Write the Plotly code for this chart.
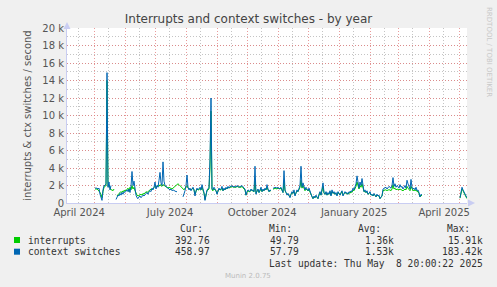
import plotly.graph_objects as go
import pandas as pd

# ---------------- data (daily averages, in thousands/sec) ----------------
main_start = "2024-05-01 20:00"
tail_start = "2025-05-01 20:00"

ctx_main_k = [
    1.7, 1.7, 1.7, 1.6, 1.7, 1.0, 0.5, 0.3, 1.5, 2.0,
    2.0, 2.2, 14.9, 1.8, 2.4, 1.5, 2.0, None, None, None,
    None, 0.4, 0.7, 0.9, 0.8, 1.1, 0.9, 1.2, 1.0, 1.3,
    1.2, 1.4, 1.5, 1.3, 1.6, 1.2, 1.9, 3.6, 2.0, 2.5,
    1.3, 0.9, 0.6, 0.5, 0.7, 0.8, 0.6, 0.7, 0.9, 0.8,
    1.0, 1.1, 1.2, 1.0, 1.3, 1.4, 1.3, 1.7, 1.5, 1.8,
    2.4, 1.6, 2.0, 1.8, 2.6, 3.5, 2.3, 2.0, 4.7, 2.5,
    2.0, 1.9, 1.8, 1.7, 1.6, 1.5, 1.6, 1.4, 1.5, 1.4,
    1.4, 1.3, 1.3, None, None, None, None, None, 0.7, 1.0,
    1.4, 2.0, 3.2, 1.8, 1.5, 1.7, 1.4, 1.6, 1.8, 1.5,
    0.8, 1.4, 1.7, 1.5, 1.6, 1.8, 1.5, 2.1, 1.6, 1.2,
    0.3, 1.0, 1.5, 1.6, 1.8, 5.0, 12.0, 1.6, 1.5, 1.8,
    1.6, 1.4, 1.0, 1.5, 1.7, 1.5, 1.6, 1.9, 1.4, 1.7,
    1.5, 1.8, 1.6, 1.9, 1.7, 1.9, 1.9, 2.0, 1.8, 1.9,
    1.9, 1.8, 2.0, 1.9, 1.8, 1.9, 1.9, 2.0, 1.8, 1.7,
    1.6, 0.9, 1.3, 1.5, 1.4, 1.3, 1.6, 1.4, 1.5, 1.3,
    4.2, 1.0, 1.4, 1.6, 1.2, 1.5, 1.8, 1.3, 1.6, 1.4,
    1.7, 1.5, 2.1, 1.6, 1.3, 1.5, 1.4, None, 1.7, 1.7,
    1.8, 1.7, 1.7, 1.8, 1.6, 1.7, 1.8, 1.5, 1.2, 3.7,
    1.5, 1.2, 0.9, 1.1, 0.8, 0.6, 1.0, 1.3, 1.1, 1.5,
    0.8, 1.2, 1.5, 1.3, 1.8, 2.0, 4.2, 1.8, 2.3, 1.7,
    1.5, 1.8, 1.6, 1.4, 1.7, 1.3, 1.0, 0.7, 0.5, 0.8,
    0.6, 0.9, 0.7, 0.5, 1.0, 1.3, 0.9, 1.6, 2.3, 1.2,
    1.0, 1.3, 0.9, 1.2, 1.0, 1.4, 0.8, 1.5, 1.1, 1.3,
    1.0, 1.2, 0.8, 1.3, 1.1, 0.9, 1.2, 1.4, 0.8, 1.0,
    1.3, 1.1, 1.2, 1.0, 1.3, 1.2, 1.4, 1.3, 1.7, 1.5,
    1.8, 2.2, 3.1, 2.0, 1.7, 2.4, 2.0, 2.8, 1.6, 1.3,
    1.5, 1.2, 1.4, 1.0, 1.1, 1.3, 0.9, 1.0, 0.8, 1.1,
    0.9, 0.7, 1.0, 0.8, 0.9, 0.5, 0.7, 0.8, 1.6, 1.7,
    1.7, 1.8, 1.6, 1.7, 1.9, 1.8, 1.7, 2.0, 2.9, 1.9,
    2.2, 1.8, 2.0, 1.9, 1.7, 2.1, 1.8, 1.9, 1.6, 1.8,
    2.0, 1.7, 2.6, 2.2, 1.9, 1.6, 2.7, 1.8, 1.6, 1.7,
    1.5, 1.8, 1.4, 1.5, 1.2, 0.7, 1.0, 0.9,
]
int_main_k = [
    1.6, 1.6, 1.6, 1.5, 1.4, 1.2, 1.0, 0.6, 1.3, 1.8,
    1.9, 2.0, 14.0, 1.9, 2.0, 1.6, 1.5, 1.5, 1.4, 1.6,
    None, None, 0.8, 1.0, 1.1, 1.2, 1.3, 1.2, 1.4, 1.3,
    1.5, 1.4, 1.6, 1.7, 1.3, 1.8, 1.5, 2.0, 1.6, 1.8,
    1.4, 1.1, 0.9, 0.8, 0.9, 1.0, 1.0, 0.9, 1.1, 1.0,
    1.2, 1.3, 1.2, 1.3, 1.4, 1.5, 1.6, 1.5, 1.7, 1.8,
    1.9, 1.8, 1.9, 2.0, 1.9, 2.1, 2.0, 1.9, 2.1, 2.0,
    1.9, 1.8, 1.8, 1.7, 1.8, 1.7, 1.7, 1.6, 1.7, 1.8,
    1.9, 2.0, 2.1, 2.2, 2.1, 2.0, 1.8, 1.7, 1.6, 1.5,
    1.7, 1.8, 2.0, 1.7, 1.6, 1.6, 1.5, 1.6, 1.7, 1.5,
    1.0, 1.3, 1.6, 1.5, 1.5, 1.7, 1.5, 1.8, 1.5, 1.1,
    0.4, 1.0, 1.4, 1.5, 1.6, 4.0, 10.5, 1.5, 1.4, 1.6,
    1.5, 1.4, 1.1, 1.4, 1.6, 1.5, 1.5, 1.7, 1.4, 1.6,
    1.5, 1.7, 1.6, 1.8, 1.7, 1.8, 1.8, 1.9, 1.8, 1.8,
    1.8, 1.8, 1.9, 1.8, 1.8, 1.8, 1.8, 1.9, 1.7, 1.6,
    1.5, 0.9, 1.2, 1.4, 1.3, 1.3, 1.5, 1.4, 1.4, 1.3,
    2.5, 1.1, 1.3, 1.5, 1.2, 1.4, 1.6, 1.3, 1.5, 1.4,
    1.6, 1.5, 1.8, 1.5, 1.3, 1.4, 1.4, None, 1.6, 1.6,
    1.7, 1.6, 1.6, 1.7, 1.6, 1.6, 1.7, 1.4, 1.2, 2.5,
    1.4, 1.2, 1.0, 1.0, 0.8, 0.7, 1.0, 1.2, 1.1, 1.3,
    0.9, 1.1, 1.4, 1.3, 1.6, 1.8, 2.6, 1.7, 2.0, 1.6,
    1.4, 1.6, 1.5, 1.4, 1.5, 1.2, 1.0, 0.7, 0.5, 0.7,
    0.6, 0.8, 0.7, 0.5, 0.9, 1.2, 0.9, 1.4, 1.9, 1.1,
    1.0, 1.2, 0.9, 1.1, 1.0, 1.3, 0.9, 1.3, 1.1, 1.2,
    1.0, 1.1, 0.9, 1.2, 1.0, 0.9, 1.1, 1.3, 0.9, 1.0,
    1.2, 1.1, 1.1, 1.0, 1.2, 1.1, 1.3, 1.2, 1.5, 1.4,
    1.6, 1.9, 2.4, 1.8, 1.6, 2.0, 1.8, 2.2, 1.5, 1.3,
    1.3, 1.2, 1.3, 1.0, 1.1, 1.2, 0.9, 1.0, 0.8, 1.0,
    0.9, 0.7, 0.9, 0.8, 0.8, 0.5, 0.7, 0.8, 1.4, 1.5,
    1.5, 1.5, 1.4, 1.5, 1.5, 1.5, 1.4, 1.6, 2.1, 1.6,
    1.7, 1.5, 1.6, 1.5, 1.5, 1.6, 1.5, 1.5, 1.4, 1.5,
    1.6, 1.5, 1.9, 1.7, 1.5, 1.4, 1.9, 1.5, 1.4, 1.5,
    1.4, 1.5, 1.3, 1.3, 1.1, 0.7, 0.9, 0.8,
]
ctx_tail_k = [0.6, 1.2, 1.8, 1.5, 1.2, 0.9, 0.8, 0.6, 0.459]
int_tail_k = [0.55, 1.0, 1.6, 1.4, 1.1, 0.8, 0.7, 0.5, 0.393]

range_start = "2024-04-03 20:00"
range_end = "2025-05-08 20:00"
label_dates = ["2024-04-16", "2024-07-16", "2024-10-16", "2025-01-16", "2025-04-16"]
label_text = ["April 2024", "July 2024", "October 2024", "January 2025", "April 2025"]
y_ticks = [0, 2000, 4000, 6000, 8000, 10000, 12000, 14000, 16000, 18000, 20000]
y_labels = ["0", "2 k", "4 k", "6 k", "8 k", "10 k", "12 k", "14 k", "16 k", "18 k", "20 k"]

legend_names = ["interrupts", "context switches"]
legend_colors = ["#00CC00", "#0066B3"]
cur_vals = ["392.76", "458.97"]
min_vals = ["49.79", "57.79"]
avg_vals = ["1.36k", "1.53k"]
max_vals = ["15.91k", "183.42k"]

# ---------------- build ----------------
def scale(lst):
    return [None if v is None else v * 1000 for v in lst]

def concat_with_gap(main, tail):
    dm = pd.date_range(main_start, periods=len(main), freq="D")
    dt = pd.date_range(tail_start, periods=len(tail), freq="D")
    gap_date = dm[-1] + pd.Timedelta(days=1)
    x = list(dm) + [gap_date] + list(dt)
    y = scale(main) + [None] + scale(tail)
    return x, y

W, H = 497, 287
L, R, T, B = 67, 30, 28, 84
PW, PH = W - L - R, H - T - B

def px(x):
    return (x - L) / PW

def py(y):
    return (T + PH - y) / PH

fig = go.Figure()
xi, yi = concat_with_gap(int_main_k, int_tail_k)
xc, yc = concat_with_gap(ctx_main_k, ctx_tail_k)
fig.add_trace(go.Scatter(x=xi, y=yi, mode="lines", line=dict(color=legend_colors[0], width=1),
                         connectgaps=False, showlegend=False, hoverinfo="skip"))
fig.add_trace(go.Scatter(x=xc, y=yc, mode="lines", line=dict(color=legend_colors[1], width=1),
                         connectgaps=False, showlegend=False, hoverinfo="skip"))
# invisible trace for label axis
fig.add_trace(go.Scatter(x=[range_start, range_end], y=[None, None], xaxis="x2",
                         showlegend=False, hoverinfo="skip"))

red_grid = "rgba(225,120,120,0.75)"
gray_grid = "rgba(190,190,190,0.9)"
axis_col = "#C9CDF2"
txt = "#555555"

fig.update_layout(
    width=W, height=H,
    margin=dict(l=L, r=R, t=T, b=B),
    paper_bgcolor="#F0F0F0",
    plot_bgcolor="#FFFFFF",
    font=dict(family="DejaVu Sans", size=10, color=txt),
    xaxis=dict(
        type="date", range=[range_start, range_end],
        tick0="2024-05-01", dtick="M1", showticklabels=False, ticks="",
        showgrid=True, gridcolor=red_grid, griddash="1px,2px", gridwidth=1,
        minor=dict(tick0="2024-04-15", dtick="M1", showgrid=True,
                   gridcolor=gray_grid, griddash="1px,2px", gridwidth=1),
        showline=True, linecolor=axis_col, linewidth=1, zeroline=False,
    ),
    xaxis2=dict(
        type="date", range=[range_start, range_end], overlaying="x", side="bottom",
        tickvals=label_dates, ticktext=label_text, ticks="", showgrid=False,
        showline=False, zeroline=False, tickfont=dict(size=10, color=txt),
        ticklabelstandoff=2,
    ),
    yaxis=dict(
        range=[0, 20000], tickvals=y_ticks, ticktext=y_labels, ticks="",
        showgrid=True, gridcolor=red_grid, griddash="1px,2px", gridwidth=1,
        minor=dict(dtick=1000, showgrid=True, gridcolor=gray_grid, griddash="1px,2px"),
        showline=True, linecolor=axis_col, linewidth=1, zeroline=False,
        tickfont=dict(size=10, color=txt),
        title=dict(text="interrupts & ctx switches / second", font=dict(size=10, color=txt), standoff=8),
    ),
    title=dict(text="Interrupts and context switches - by year", x=0.5, xanchor="center",
               y=1 - 19 / H, yanchor="middle", font=dict(size=12, color="#444444")),
)

shapes = []
# axis arrows
shapes.append(dict(type="path", xref="paper", yref="paper",
                   path=f"M {px(63.5)} {py(29)} L {px(70.5)} {py(29)} L {px(67)} {py(22)} Z",
                   fillcolor=axis_col, line=dict(width=0)))
shapes.append(dict(type="path", xref="paper", yref="paper",
                   path=f"M {px(468)} {py(199.5)} L {px(468)} {py(206.5)} L {px(475)} {py(203)} Z",
                   fillcolor=axis_col, line=dict(width=0)))
# legend squares
for i, c in enumerate(legend_colors):
    yc0 = 240 + i * 11.7
    shapes.append(dict(type="rect", xref="paper", yref="paper",
                       x0=px(14), x1=px(20), y0=py(yc0 - 3), y1=py(yc0 + 3),
                       fillcolor=c, line=dict(width=0)))
fig.update_layout(shapes=shapes)

mono = dict(family="DejaVu Sans Mono", size=9.6, color="#333333")
ann = []

def add_text(text, x, y, xanchor="left", font=mono, **kw):
    ann.append(dict(text=text, x=px(x), y=py(y), xref="paper", yref="paper",
                    xanchor=xanchor, yanchor="middle", showarrow=False, font=font,
                    borderpad=0, **kw))

# header
for t_, xr in zip(["Cur:", "Min:", "Avg:", "Max:"], [203.5, 293, 381.5, 470.5]):
    add_text(t_, xr, 228, xanchor="right")
for i in range(2):
    yrow = 240 + i * 11.7
    add_text(legend_names[i], 26.5, yrow)
    add_text(cur_vals[i], 211, yrow, xanchor="right")
    add_text(min_vals[i], 299.5, yrow, xanchor="right")
    add_text(avg_vals[i], 394.5, yrow, xanchor="right")
    add_text(max_vals[i], 483.5, yrow, xanchor="right")
add_text("Last update: Thu May  8 20:00:22 2025", 483.5, 263.5, xanchor="right")
add_text("Munin 2.0.75", 248, 276, xanchor="center",
         font=dict(family="DejaVu Sans", size=7, color="#BBBBBB"))
add_text("RRDTOOL / TOBI OETIKER", 489, 52, xanchor="center",
         font=dict(family="DejaVu Sans", size=7, color="#C8C8C8"), textangle=90)
fig.update_layout(annotations=ann)

fig.write_html("out.html")
